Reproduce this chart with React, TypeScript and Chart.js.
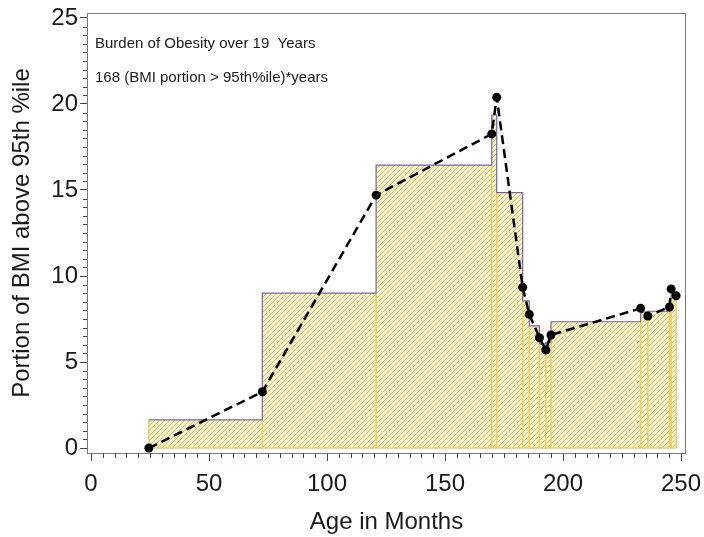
import { useEffect, useRef } from 'react';
import { Chart, registerables } from 'chart.js';

Chart.register(...registerables);

const FONT = '"Liberation Sans", Arial, Helvetica, sans-serif';

// measured points (age in months, BMI portion above 95th %ile)
const ages = [24.5, 72.6, 120.8, 169.8, 171.9, 182.9, 185.7, 190.0, 192.7, 194.9, 232.9, 235.9, 245.1, 245.8, 247.9];
const bmiPortion = [0, 3.27, 14.7, 18.26, 20.39, 9.34, 7.77, 6.41, 5.7, 6.57, 8.12, 7.67, 8.2, 9.25, 8.85];

// step (rectangle) approximation
const stepEdges = [24.5, 72.6, 120.8, 169.8, 171.9, 182.9, 185.7, 190.0, 192.7, 194.9, 232.9, 235.9, 245.1, 245.8, 247.9];
const stepHeights = [1.63, 9.0, 16.45, 19.36, 14.85, 8.55, 7.1, 6.05, 6.15, 7.34, 7.9, 7.95, 8.7, 9.05];

const xTicks = [0, 50, 100, 150, 200, 250];
const yTicks = [0, 5, 10, 15, 20, 25];
const xMinorStep = 5;
const yMinorStep = 0.5;

const noteLines = ['Burden of Obesity over 19  Years', '168 (BMI portion > 95th%ile)*years'];

export default function App() {
  const ref = useRef<HTMLCanvasElement>(null);

  useEffect(() => {
    const canvas = ref.current;
    if (!canvas) return;

    const tile = document.createElement('canvas');
    tile.width = 5;
    tile.height = 5;
    const t = tile.getContext('2d')!;
    t.fillStyle = '#faf2cf';
    t.fillRect(0, 0, 5, 5);
    t.strokeStyle = '#d6be6c';
    t.lineWidth = 1;
    t.beginPath();
    t.moveTo(-1, 6);
    t.lineTo(6, -1);
    t.moveTo(-1, 1);
    t.lineTo(1, -1);
    t.moveTo(4, 6);
    t.lineTo(6, 4);
    t.stroke();
    const pattern = canvas.getContext('2d')!.createPattern(tile, 'repeat');

    const stepPoints: { x: number; y: number }[] = stepHeights.map((h, i) => ({ x: stepEdges[i], y: h }));
    stepPoints.push({ x: stepEdges[stepEdges.length - 1], y: stepHeights[stepHeights.length - 1] });

    const vertical: { x: number; y: number | null }[] = [];
    stepEdges.forEach((e, i) => {
      const left = i > 0 ? stepHeights[i - 1] : null;
      const right = i < stepHeights.length ? stepHeights[i] : null;
      const top = left == null ? right! : right == null ? left : Math.min(left, right);
      vertical.push({ x: e, y: 0 }, { x: e, y: top }, { x: e, y: null });
    });
    vertical.push({ x: stepEdges[0], y: 0 }, { x: stepEdges[stepEdges.length - 1], y: 0 });

    const decor = {
      id: 'decor',
      afterDraw(chart: any) {
        const { ctx, chartArea } = chart;
        const xs = chart.scales.x;
        const ys = chart.scales.y;
        ctx.save();
        // frame
        ctx.strokeStyle = '#7a7a7a';
        ctx.lineWidth = 1;
        ctx.strokeRect(chartArea.left + 0.5, chartArea.top + 0.5, chartArea.right - chartArea.left - 1, chartArea.bottom - chartArea.top);
        // minor ticks
        ctx.strokeStyle = '#444';
        ctx.beginPath();
        for (let v = 0; v <= 250; v += xMinorStep) {
          if (v % 50 === 0) continue;
          const px = Math.round(xs.getPixelForValue(v)) + 0.5;
          ctx.moveTo(px, chartArea.bottom);
          ctx.lineTo(px, chartArea.bottom + 5);
        }
        for (let v = 0; v <= 25; v += yMinorStep) {
          if (v % 5 === 0) continue;
          const py = Math.round(ys.getPixelForValue(v)) + 0.5;
          ctx.moveTo(chartArea.left, py);
          ctx.lineTo(chartArea.left - 4, py);
        }
        ctx.stroke();
        // annotation text
        ctx.fillStyle = '#1a1a1a';
        ctx.font = `15px ${FONT}`;
        ctx.textBaseline = 'middle';
        ctx.textAlign = 'left';
        ctx.fillText(noteLines[0], chartArea.left + 8, chartArea.top + 31);
        ctx.fillText(noteLines[1], chartArea.left + 8, chartArea.top + 65);
        ctx.restore();
      },
    };

    const chart = new Chart(canvas, {
      type: 'line',
      data: {
        datasets: [
          {
            data: ages.map((a, i) => ({ x: a, y: bmiPortion[i] })),
            borderColor: '#000',
            borderWidth: 2.5,
            borderDash: [9, 5],
            borderJoinStyle: 'round',
            pointRadius: 4.5,
            pointBackgroundColor: '#000',
            pointBorderColor: '#000',
            pointBorderWidth: 0,
            tension: 0,
            fill: false,
            order: 1,
          } as any,
          {
            data: stepPoints,
            stepped: 'before',
            borderColor: '#7466a6',
            borderWidth: 1.2,
            pointRadius: 0,
            fill: false,
            order: 2,
          },
          {
            data: vertical,
            borderColor: '#ecd064',
            borderWidth: 1.6,
            pointRadius: 0,
            spanGaps: false,
            fill: false,
            order: 3,
          },
          {
            data: stepPoints,
            stepped: 'before',
            borderWidth: 0,
            borderColor: 'rgba(0,0,0,0)',
            backgroundColor: pattern as any,
            pointRadius: 0,
            fill: 'origin',
            order: 4,
          },
        ],
      },
      options: {
        responsive: false,
        animation: false,
        layout: { padding: { top: 13, right: 18, left: 0, bottom: 0 } },
        plugins: { legend: { display: false }, tooltip: { enabled: false } },
        scales: {
          x: {
            type: 'linear',
            min: -1.7,
            max: 252.1,
            afterBuildTicks: (s: any) => {
              s.ticks = xTicks.map((v) => ({ value: v }));
            },
            afterFit: (s: any) => {
              s.height = 84;
              s.paddingLeft = 0;
              s.paddingRight = 0;
            },
            border: { display: false },
            grid: { drawOnChartArea: false, drawTicks: true, tickLength: 8, color: '#444' },
            ticks: { font: { family: FONT, size: 24 }, color: '#1a1a1a', padding: 9, maxRotation: 0 },
            title: {
              display: true,
              text: 'Age in Months',
              font: { family: FONT, size: 24 },
              color: '#1a1a1a',
              padding: { top: 0, bottom: 0 },
            },
          },
          y: {
            type: 'linear',
            min: -0.29,
            max: 25.29,
            afterBuildTicks: (s: any) => {
              s.ticks = yTicks.map((v) => ({ value: v }));
            },
            afterFit: (s: any) => {
              s.width = 87;
              s.paddingTop = 0;
              s.paddingBottom = 0;
            },
            border: { display: false },
            grid: { drawOnChartArea: false, drawTicks: true, tickLength: 7, color: '#444' },
            ticks: { font: { family: FONT, size: 24 }, color: '#1a1a1a', padding: 2 },
            title: {
              display: true,
              text: 'Portion of BMI above 95th %ile',
              font: { family: FONT, size: 24 },
              color: '#1a1a1a',
              padding: { top: 8, bottom: 0 },
            },
          },
        },
      },
      plugins: [decor],
    });

    return () => chart.destroy();
  }, []);

  return (
    <div style={{ position: 'fixed', left: 0, top: 0, width: 704, height: 537, background: '#fff' }}>
      <canvas ref={ref} width={704} height={537} />
    </div>
  );
}
